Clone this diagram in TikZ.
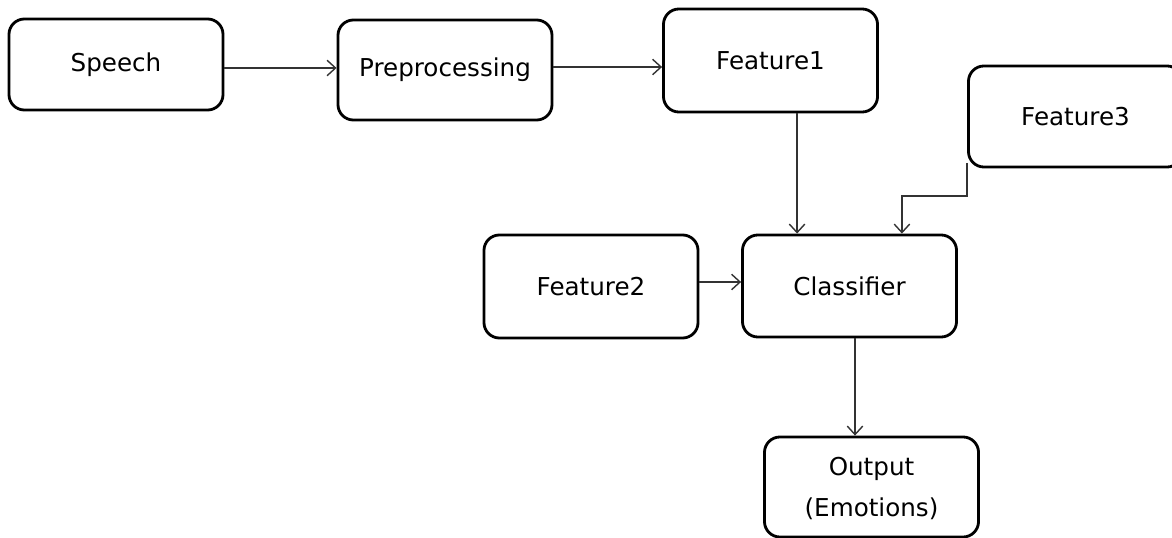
\documentclass[tikz,border=0pt]{standalone}
\usepackage{fontspec}
\setmainfont{DejaVu Sans}
\usetikzlibrary{arrows.meta}

\tikzset{
  box/.style={draw=black, line width=2pt, rounded corners=11pt, minimum width=5.35cm,
    minimum height=2.5cm, align=center, font=\fontsize{17.5}{29}\selectfont},
  link/.style={draw=black!80, line width=1pt, -{Straight Barb[length=6pt,width=11pt]}}
}

\begin{document}
\begin{tikzpicture}[x=0.025cm,y=-0.025cm]
    \clip (0,0) rectangle (1172,538);
    \node[box, minimum height=2.275cm] (speech) at (116,64.5) {Speech};
    \node[box] (prep) at (445,70) {Preprocessing};
    \node[box, minimum height=2.575cm] (feat1) at (770.5,60.5) {Feature1};
    \node[box, minimum height=2.525cm] (feat3) at (1075.5,116.5) {Feature3};
    \node[box, minimum height=2.575cm] (feat2) at (591,286.5) {Feature2};
    \node[box, minimum height=2.55cm] (clf) at (849.5,286) {Classifier};
    \node[box, text depth=-0.1cm] (out) at (871.5,487) {Output\\(Emotions)};
    % connectors
    \coordinate (row1) at (0,68);
    \coordinate (row2) at (0,67);
    \coordinate (row3) at (0,282);
    \coordinate (row4) at (0,163);
    \coordinate (col4) at (855,0);
    \draw[link] (speech.east |- row1) -- (prep.west |- row1);
    \draw[link] (prep.east |- row2) -- (feat1.west |- row2);
    \draw[link] (feat1.south -| clf.135) -- (clf.135);
    \draw[link] (feat3.west |- row4) -- ++(0,33) -| (clf.45);
    \draw[link] (feat2.east |- row3) -- (clf.west |- row3);
    \draw[link] (clf.south -| col4) -- (out.north -| col4);
\end{tikzpicture}
\end{document}
